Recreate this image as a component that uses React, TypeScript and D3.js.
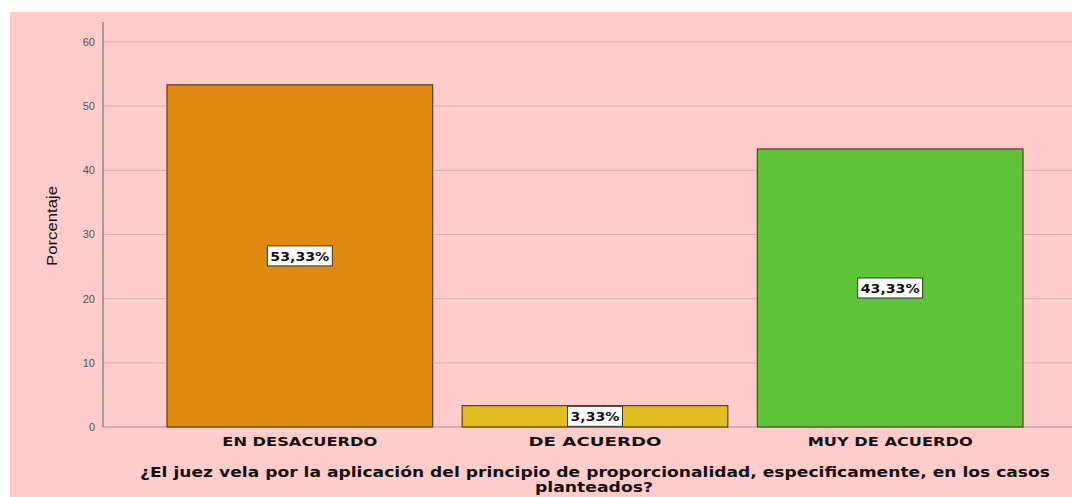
import React from "react";
import * as d3 from "d3";

const categories = ["EN DESACUERDO", "DE ACUERDO", "MUY DE ACUERDO"];
const values = [53.33, 3.33, 43.33];
const valueLabels = ["53,33%", "3,33%", "43,33%"];
const colors = ["#E08A10", "#E1BD20", "#5EC43A"];
const yTicks = [0, 10, 20, 30, 40, 50, 60];
const titleLines = [
  "¿El juez vela por la aplicación del principio de proporcionalidad, especificamente, en los casos",
  "planteados?",
];
const yTitle = "Porcentaje";

export default function App() {
  const W = 1072;
  const H = 497;
  const axisX = 103;
  const y = d3.scaleLinear().domain([0, 60]).range([427, 42]);
  const x = d3
    .scaleBand<string>()
    .domain(categories)
    .range([167, 1023])
    .paddingInner(0.1)
    .paddingOuter(0);
  const font = "'Liberation Sans', Arial, sans-serif";
  const wide = "'DejaVu Sans', Verdana, sans-serif";
  const labelWidths = [155, 133, 165];
  return (
    <svg
      width={W}
      height={H}
      style={{ position: "absolute", left: 0, top: 0 }}
      xmlns="http://www.w3.org/2000/svg"
    >
      <rect x={0} y={0} width={W} height={H} fill="#ffffff" />
      <rect x={10} y={12} width={W - 10} height={H - 12} fill="#FFCCCC" />
      {yTicks.map((t) => (
        <g key={t}>
          {t > 0 && (
            <line x1={axisX} x2={W} y1={y(t)} y2={y(t)} stroke="#D9B3B3" strokeWidth={1.2} />
          )}
          <text
            x={95}
            y={y(t)}
            dy="0.35em"
            textAnchor="end"
            fontFamily={font}
            fontSize={11}
            fill="#555"
          >
            {t}
          </text>
        </g>
      ))}
      <line x1={axisX} x2={W} y1={y(0)} y2={y(0)} stroke="#999" strokeWidth={1} />
      <line x1={axisX} x2={axisX} y1={22} y2={y(0)} stroke="#888" strokeWidth={1.5} />
      {categories.map((c, i) => {
        const bx = x(c)!;
        const bw = x.bandwidth();
        const top = y(values[i]);
        const cy = (top + y(0)) / 2;
        const cx = bx + bw / 2;
        const lw = valueLabels[i].length * 10 + 5;
        return (
          <g key={c}>
            <rect
              x={bx}
              y={top}
              width={bw}
              height={y(0) - top}
              fill={colors[i]}
              stroke="#5a4020"
              strokeWidth={1.2}
            />
            <rect
              x={cx - lw / 2}
              y={cy - 10}
              width={lw}
              height={20}
              fill="#fff"
              stroke="#333"
              strokeWidth={1}
            />
            <text
              x={cx}
              y={cy}
              dy="0.36em"
              textAnchor="middle"
              fontFamily={wide}
              fontWeight="bold"
              fontSize={13}
              textLength={lw - 6}
              lengthAdjust="spacingAndGlyphs"
              fill="#111"
            >
              {valueLabels[i]}
            </text>
            <text
              x={cx}
              y={446}
              textAnchor="middle"
              fontFamily={wide}
              fontWeight="bold"
              fontSize={13}
              textLength={labelWidths[i]}
              lengthAdjust="spacingAndGlyphs"
              fill="#111"
            >
              {c}
            </text>
          </g>
        );
      })}
      <text
        x={595}
        y={477}
        textAnchor="middle"
        fontFamily={wide}
        fontWeight="bold"
        fontSize={14.5}
        textLength={910}
        lengthAdjust="spacingAndGlyphs"
        fill="#111"
      >
        {titleLines[0]}
      </text>
      <text
        x={594}
        y={492}
        textAnchor="middle"
        fontFamily={wide}
        fontWeight="bold"
        fontSize={14.5}
        textLength={118}
        lengthAdjust="spacingAndGlyphs"
        fill="#111"
      >
        {titleLines[1]}
      </text>
      <text
        transform={`translate(57,226) rotate(-90)`}
        textAnchor="middle"
        fontFamily="'Liberation Sans Narrow', 'Liberation Sans', Arial, sans-serif"
        fontSize={15}
        textLength={80}
        lengthAdjust="spacingAndGlyphs"
        fill="#111"
      >
        {yTitle}
      </text>
    </svg>
  );
}
